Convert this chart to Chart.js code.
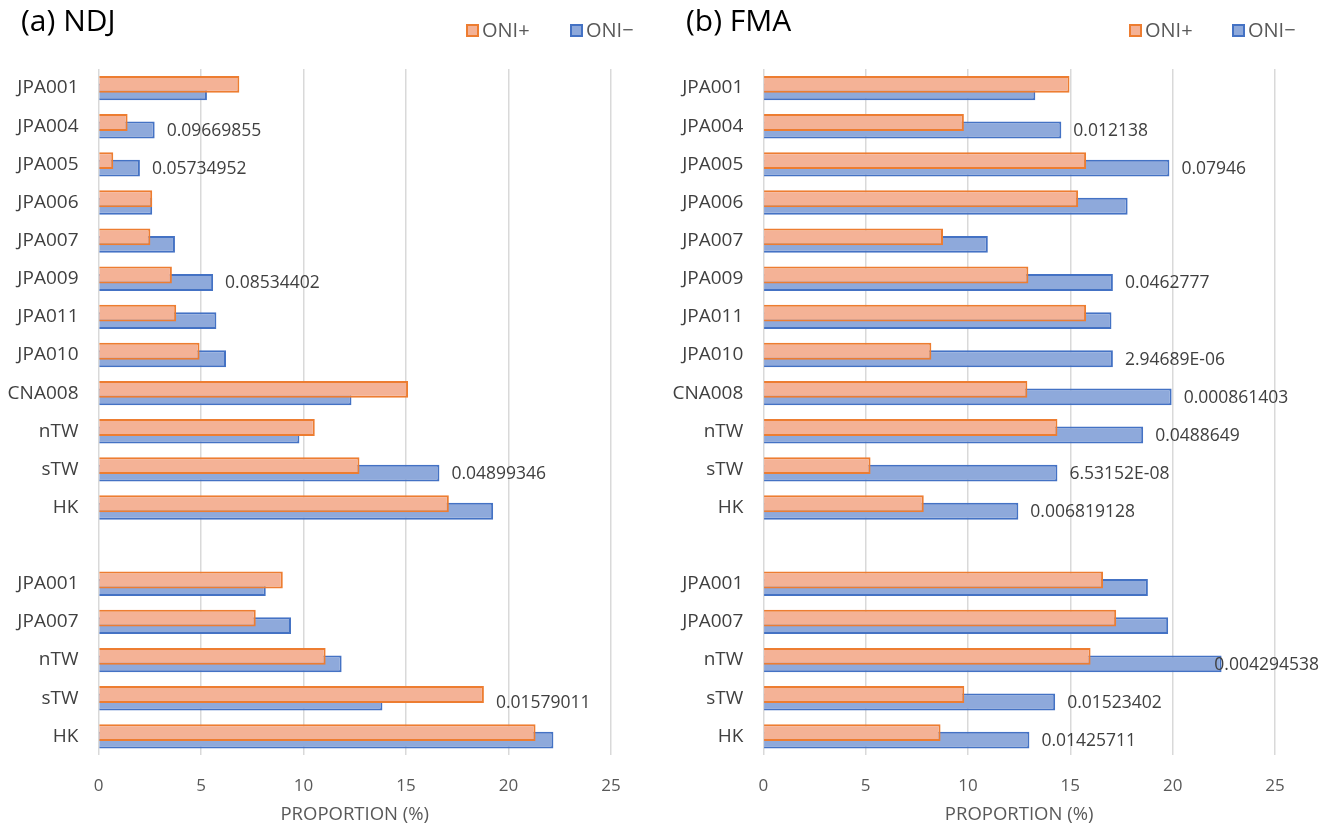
<!DOCTYPE html>
<html>
<head>
<meta charset="utf-8">
<title>ONI+ / ONI− proportions</title>
<script src="https://cdn.jsdelivr.net/npm/chart.js@4.4.1/dist/chart.umd.min.js"></script>
<style>
  html, body { margin: 0; padding: 0; background: #ffffff; }
  #wrap { position: relative; width: 1327px; height: 828px; overflow: hidden; }
  .panel { position: absolute; top: 0; height: 828px; }
  #pa { left: 0; width: 663px; }
  #pb { left: 663px; width: 664px; }
</style>
</head>
<body>
<div id="wrap">
  <div class="panel" id="pa"><canvas id="ndj" width="663" height="828"></canvas></div>
  <div class="panel" id="pb"><canvas id="fma" width="664" height="828"></canvas></div>
</div>
<script>
// Stations (upper block, a blank spacer row, then the lower block)
const categories = ['JPA001', 'JPA004', 'JPA005', 'JPA006', 'JPA007', 'JPA009', 'JPA011', 'JPA010',
  'CNA008', 'nTW', 'sTW', 'HK', '', 'JPA001', 'JPA007', 'nTW', 'sTW', 'HK'];

const seriesNames = ['ONI+', 'ONI\u2212'];
const xTicks = [0, 5, 10, 15, 20, 25];

// (a) NDJ proportions (%)
const ndjPositive = [6.87, 1.42, 0.72, 2.62, 2.53, 3.58, 3.79, 4.93, 15.1, 10.55, 12.73, 17.09,
  null, 8.99, 7.67, 11.08, 18.8, 21.32];
const ndjNegative = [5.29, 2.74, 2.02, 2.62, 3.73, 5.59, 5.75, 6.22, 12.34, 9.8, 16.63, 19.25,
  null, 8.16, 9.39, 11.86, 13.85, 22.19];
const ndjPValues = ['', '0.09669855', '0.05734952', '', '', '0.08534402', '', '', '', '', '0.04899346', '',
  '', '', '', '', '0.01579011', ''];

// (b) FMA proportions (%)
const fmaPositive = [14.96, 9.8, 15.77, 15.38, 8.78, 12.95, 15.77, 8.21, 12.9, 14.37, 5.24, 7.84,
  null, 16.6, 17.24, 15.99, 9.82, 8.66];
const fmaNegative = [13.29, 14.56, 19.84, 17.8, 10.97, 17.08, 17.01, 17.08, 19.95, 18.56, 14.37, 12.46,
  null, 18.79, 19.78, 22.39, 14.26, 13.0];
const fmaPValues = ['', '0.012138', '0.07946', '', '', '0.0462777', '', '2.94689E-06', '0.000861403',
  '0.0488649', '6.53152E-08', '0.006819128', '', '', '', '0.004294538', '0.01523402', '0.01425711'];

const FONT = "'Open Sans', 'Noto Sans', sans-serif";
Chart.defaults.font.family = FONT;

const COLORS = {
  posBorder: '#ED7D31', posFill: '#F4B296',
  negBorder: '#4472C4', negFill: '#8EA9DB',
  grid: '#D9D9D9', tick: '#595959', label: '#404040', text: '#262626'
};

// Panel heading and legend drawn across the top band
const headerPlugin = {
  id: 'header',
  afterDraw(chart, args, opts) {
    const ctx = chart.ctx;
    ctx.save();
    ctx.fillStyle = '#000000';
    ctx.font = '30px ' + FONT;
    ctx.textBaseline = 'middle';
    ctx.textAlign = 'left';
    ctx.fillText(opts.title, opts.titleX, 22);

    ctx.font = '20px ' + FONT;
    chart.data.datasets.forEach((ds, i) => {
      const bx = opts.legendX[i];
      const by = 24;
      ctx.fillStyle = ds.backgroundColor;
      ctx.fillRect(bx, by, 13, 13);
      ctx.strokeStyle = ds.borderColor;
      ctx.lineWidth = 2;
      ctx.strokeRect(bx + 1, by + 1, 11, 11);
      ctx.fillStyle = COLORS.tick;
      ctx.fillText(ds.label, bx + 16, by + 7);
    });
    ctx.restore();
  }
};

// Significance values written to the right of each station's bars
const pLabelPlugin = {
  id: 'pLabels',
  afterDatasetsDraw(chart, args, opts) {
    const ctx = chart.ctx;
    const m0 = chart.getDatasetMeta(0).data;
    const m1 = chart.getDatasetMeta(1).data;
    ctx.save();
    ctx.font = '17.5px ' + FONT;
    ctx.fillStyle = COLORS.label;
    ctx.textBaseline = 'middle';
    ctx.textAlign = 'left';
    opts.texts.forEach((t, i) => {
      if (!t || !m1[i]) return;
      const end = Math.max(m0[i].x, m1[i].x);
      const w = ctx.measureText(t).width;
      const x = Math.min(end + 12, chart.width - 8 - w);
      ctx.fillText(t, x, m1[i].y + 1);
    });
    ctx.restore();
  }
};

function makePanel(canvasId, title, pos, neg, pTexts, axisWidth, legendX, titleX) {
  return new Chart(document.getElementById(canvasId), {
    type: 'bar',
    data: {
      labels: categories,
      datasets: [
        {
          label: seriesNames[0], data: pos,
          backgroundColor: COLORS.posFill, borderColor: COLORS.posBorder, borderWidth: 2
        },
        {
          label: seriesNames[1], data: neg,
          backgroundColor: COLORS.negFill, borderColor: COLORS.negBorder, borderWidth: 2
        }
      ]
    },
    options: {
      indexAxis: 'y',
      responsive: false,
      animation: false,
      devicePixelRatio: 1,
      categoryPercentage: 0.393,
      barPercentage: 2.25,
      layout: { padding: { top: 69, bottom: 2, left: 0, right: 52 } },
      plugins: {
        legend: { display: false },
        tooltip: { enabled: false },
        header: { title: title, titleX: titleX, legendX: legendX },
        pLabels: { texts: pTexts }
      },
      scales: {
        x: {
          min: 0, max: 25,
          afterBuildTicks(scale) { scale.ticks = xTicks.map(v => ({ value: v })); },
          grid: { color: COLORS.grid, lineWidth: 1.5, drawTicks: false },
          border: { display: false },
          ticks: { color: COLORS.tick, font: { size: 17 }, padding: 21 },
          title: {
            display: true, text: 'PROPORTION (%)', color: COLORS.tick,
            font: { size: 18.5 }, padding: { top: 0, bottom: 0 }
          },
          afterFit(scale) { scale.height = 70.6; }
        },
        y: {
          grid: { display: false },
          border: { display: false },
          ticks: { color: COLORS.label, font: { size: 19 }, padding: 12, autoSkip: false },
          afterFit(scale) { scale.width = axisWidth; }
        }
      }
    },
    plugins: [headerPlugin, pLabelPlugin]
  });
}

makePanel('ndj', '(a) NDJ', ndjPositive, ndjNegative, ndjPValues, 98.5, [466, 570], 21);
makePanel('fma', '(b) FMA', fmaPositive, fmaNegative, fmaPValues, 100.3, [466, 569], 23);
</script>
</body>
</html>
